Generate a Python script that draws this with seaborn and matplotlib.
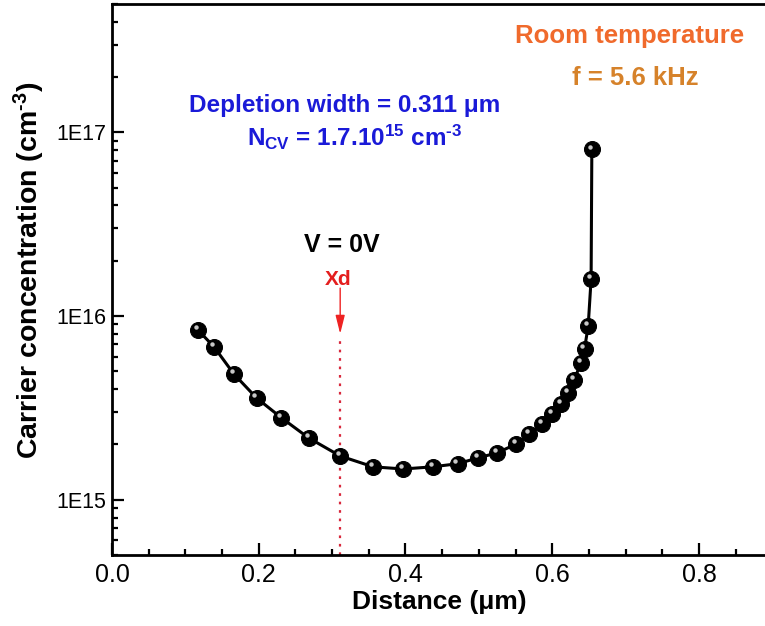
import numpy as np
import pandas as pd
import matplotlib
matplotlib.use("Agg")
import matplotlib.pyplot as plt
import seaborn as sns
from matplotlib.ticker import MultipleLocator, LogLocator, FuncFormatter, NullFormatter
from matplotlib.transforms import ScaledTranslation

# ---- data ----
distance_um = [0.117, 0.139, 0.166, 0.197, 0.231, 0.268, 0.311, 0.356, 0.397,
               0.437, 0.471, 0.499, 0.525, 0.551, 0.569, 0.586, 0.600, 0.612,
               0.622, 0.630, 0.639, 0.644, 0.649, 0.653, 0.654]
carrier_cm3 = [8.4e15, 6.8e15, 4.84e15, 3.58e15, 2.79e15, 2.17e15, 1.73e15, 1.51e15, 1.47e15,
               1.51e15, 1.57e15, 1.69e15, 1.80e15, 2.01e15, 2.28e15, 2.59e15, 2.93e15, 3.32e15,
               3.82e15, 4.49e15, 5.55e15, 6.62e15, 8.82e15, 1.59e16, 8.09e16]
depletion_width = 0.311
x_ticks = [0.0, 0.2, 0.4, 0.6, 0.8]
y_decades = [1e15, 1e16, 1e17]

df = pd.DataFrame({"Distance": distance_um, "Carrier": carrier_cm3})

sns.set_theme(style="ticks")
plt.rcParams["font.family"] = ["Liberation Sans", "DejaVu Sans"]
plt.rcParams["mathtext.fontset"] = "custom"
plt.rcParams["mathtext.rm"] = "Liberation Sans"
plt.rcParams["mathtext.bf"] = "Liberation Sans:bold"
plt.rcParams["mathtext.it"] = "Liberation Sans:italic"
for k in ["text.color", "axes.labelcolor", "xtick.color", "ytick.color", "axes.edgecolor"]:
    plt.rcParams[k] = "black"

fig = plt.figure(figsize=(7.65, 6.26), dpi=100)
ax = fig.add_axes([112 / 765, 1 - 555 / 626, (765 - 112) / 765, (555 - 4) / 626])

sns.lineplot(data=df, x="Distance", y="Carrier", sort=False, ax=ax, color="black",
             lw=2.2, marker="o", markersize=11.5, markeredgecolor="black",
             markerfacecolor="black", zorder=3)
# glossy highlight on the spheres
off = ax.transData + ScaledTranslation(-1.5 / 72, 2.0 / 72, fig.dpi_scale_trans)
ax.plot(distance_um, carrier_cm3, "o", ms=3.2, color="#c8c8c8", mec="none",
        transform=off, zorder=4)

ax.set_yscale("log")
ax.set_xlim(0, 0.89)
ax.set_ylim(5e14, 5e17)

ax.xaxis.set_major_locator(MultipleLocator(0.2))
ax.xaxis.set_minor_locator(MultipleLocator(0.05))
ax.set_xticks(x_ticks)
ax.xaxis.set_major_formatter(FuncFormatter(lambda v, p: f"{v:.1f}"))
ax.yaxis.set_major_locator(LogLocator(base=10))
ax.set_yticks(y_decades)
ax.yaxis.set_minor_locator(LogLocator(base=10, subs=np.arange(2, 10)))
ax.yaxis.set_minor_formatter(NullFormatter())
ax.yaxis.set_major_formatter(FuncFormatter(lambda v, p: f"1E{int(round(np.log10(v)))}"))

ax.tick_params(which="major", direction="in", length=8.5, width=1.6, color="black")
ax.tick_params(which="minor", direction="in", length=4.5, width=1.6, color="black")
ax.tick_params(axis="x", which="major", labelsize=18, pad=6, labelcolor="black")
ax.tick_params(axis="y", which="major", labelsize=15.5, pad=4, labelcolor="black")
for s in ["left", "bottom", "top"]:
    ax.spines[s].set_linewidth(2.0)
    ax.spines[s].set_color("black")
ax.spines["right"].set_visible(False)

ax.set_xlabel("Distance (\u03bcm)", fontsize=19, fontweight="bold", color="black")
ax.set_ylabel("Carrier concentration (cm$^{\\mathbf{\u20103}}$)", fontsize=20.5,
              fontweight="bold", color="black")
ax.xaxis.set_label_coords(0.502, -0.064)
ax.yaxis.set_label_coords(-0.1, 0.517)

# depletion marker
ax.vlines(depletion_width, 5e14, 7.8e15, colors="#d8283c", linestyles=(0, (1.2, 2.6)),
          lw=1.6, zorder=2)
ax.annotate("", xy=(depletion_width, 8.0e15), xytext=(depletion_width, 1.42e16),
            arrowprops=dict(arrowstyle="-|>,head_length=0.8,head_width=0.2",
                            color="#ee2222", lw=1.0, mutation_scale=14, shrinkA=0, shrinkB=0))

# annotations
T = ax.transAxes
ax.text(0.357, 0.804, "Depletion width = 0.311 \u03bcm", transform=T, ha="center",
        va="baseline", fontsize=17.5, fontweight="bold", color="#1a1ad8")
ax.text(0.372, 0.742,
        "N$_{\\mathbf{CV}}$ = 1.7.10$^{\\mathbf{15}}$ cm$^{\\mathbf{\u20103}}$",
        transform=T, ha="center", va="baseline", fontsize=17.5, fontweight="bold",
        color="#1a1ad8")
ax.text(0.793, 0.929, "Room temperature", transform=T, ha="center", va="baseline",
        fontsize=18.5, fontweight="bold", color="#f06a2c")
ax.text(0.802, 0.853, "f = 5.6 kHz", transform=T, ha="center", va="baseline",
        fontsize=18.5, fontweight="bold", color="#d6822a")
ax.text(0.352, 0.550, "V = 0V", transform=T, ha="center", va="baseline",
        fontsize=18, fontweight="bold", color="black")
ax.text(0.346, 0.490, "Xd", transform=T, ha="center", va="baseline",
        fontsize=15, fontweight="bold", color="#e41e1e")

fig.savefig("out.png", dpi=100)
